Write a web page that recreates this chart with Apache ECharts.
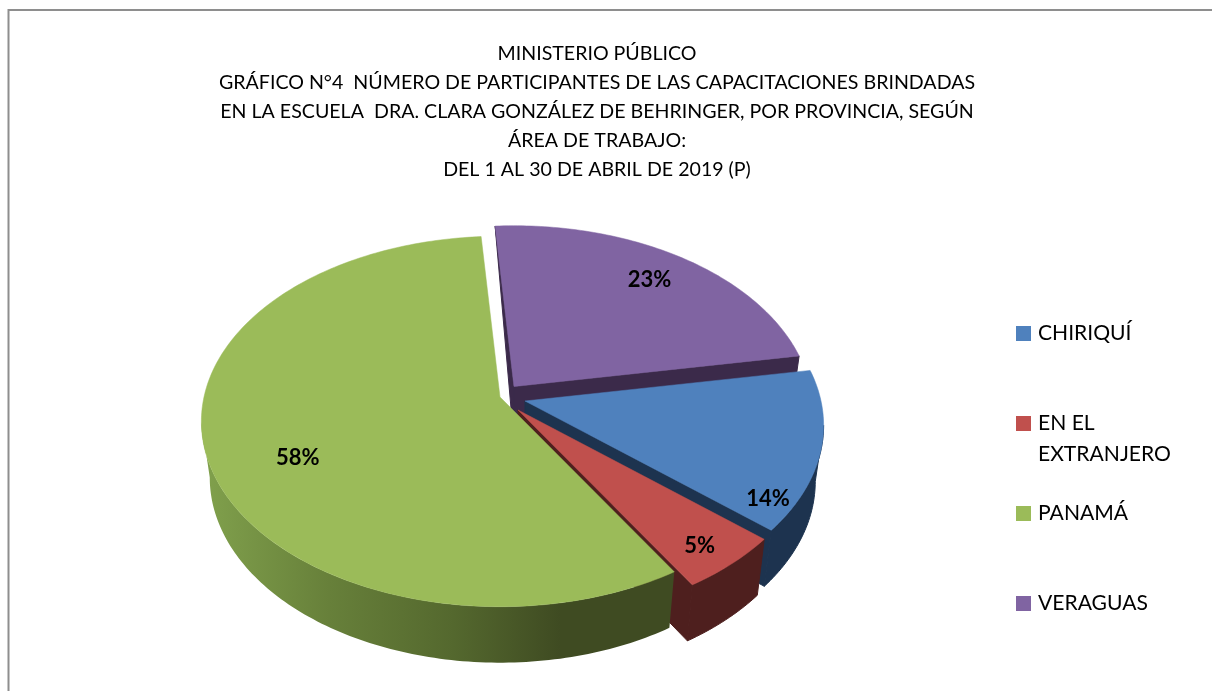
<!DOCTYPE html>
<html>
<head>
<meta charset="utf-8">
<style>html,body{margin:0;padding:0;background:#fff}#c{width:1212px;height:691px}</style>
<script src="https://cdn.jsdelivr.net/npm/echarts@6/dist/echarts.min.js"></script>
</head>
<body>
<div id="c"></div>
<script>
const categories = ['CHIRIQUÍ', 'EN EL\nEXTRANJERO', 'PANAMÁ', 'VERAGUAS'];
const shares = [14, 5, 57.6, 23.4];
const titleLines = [
  'MINISTERIO PÚBLICO',
  'GRÁFICO N°4  NÚMERO DE PARTICIPANTES DE LAS CAPACITACIONES BRINDADAS',
  'EN LA ESCUELA  DRA. CLARA GONZÁLEZ DE BEHRINGER, POR PROVINCIA, SEGÚN',
  'ÁREA DE TRABAJO:',
  'DEL 1 AL 30 DE ABRIL DE 2019 (P)'
];

const topColors = ['#4f81bd', '#c0504d', '#9bbb59', '#8064a2'];
const wallColors = ['#1d334f', '#4e1f1e', '#414c22', '#3b2a4a'];
const greenWall = { type: 'linear', x: 205, y: 0, x2: 560, y2: 0, global: true,
  colorStops: [{offset: 0, color: '#80a04c'}, {offset: .35, color: '#67803a'}, {offset: .7, color: '#54682e'}, {offset: 1, color: '#3f4b22'}] };

// 3D view of the pie
const view = { cx: 500, cy: 397, rx: 296, ry: 182, persp: 0.132, depth: 56, shrink: 0.972, start: 80.1 };
const explode = [[25, 4], [18, 13], [0, 0], [14, -10.5]];
const drawOrder = [1, 2, 3, 0];
const labelShift = [18, 1, -8.2, 0];
const labelRadius = [0.917, 0.878, 0.728, 0.806];
const total = shares.reduce((a, b) => a + b, 0);
const rad = d => d * Math.PI / 180;
const tangentAngle = Math.acos(-view.persp) * 180 / Math.PI;

function rim(i, theta, r) {
  const u = r * Math.sin(rad(theta)), v = r * Math.cos(rad(theta));
  const w = 1 + view.persp * v;
  return [view.cx + explode[i][0] + view.rx * u / w, view.cy + explode[i][1] - view.ry * v / w];
}
function below(i, p) {
  const ax = view.cx + explode[i][0];
  return [ax + (p[0] - ax) * view.shrink, p[1] + view.depth];
}
function arc(i, a, b) {
  const pts = [], n = Math.max(2, Math.ceil(Math.abs(b - a)));
  for (let k = 0; k <= n; k++) pts.push(rim(i, a + (b - a) * k / n, 1));
  return pts;
}
function poly(points, fill, z2, lineWidth) {
  return { type: 'polygon', z2, shape: { points }, style: { fill, stroke: fill, lineWidth } };
}
function renderSlice(params, api) {
  const i = params.dataIndex;
  let a = view.start;
  for (let k = 0; k < i; k++) a += shares[k] / total * 360;
  const span = api.value(0) / total * 360, b = a + span;
  const base = drawOrder[i] * 10, apex = rim(i, 0, 0);
  const kids = [];
  // radial wall at the slice's clockwise end
  const endP = rim(i, b, 1);
  if (b % 360 < 180 || i === 3) {
    kids.push(poly([apex, endP, below(i, endP), below(i, apex)], wallColors[i], base, 1));
  }
  // radial wall at the slice's start edge, where it shows
  if (i === 3) {
    kids.push(poly([rim(i, a, 1), apex, below(i, apex)], wallColors[i], base, 1));
  }
  // outer curved wall: the part of the rim that faces the viewer
  const frontEnd = Math.min(b, 360 - tangentAngle);
  const frontStart = Math.max(a, tangentAngle);
  if (frontEnd > frontStart) {
    const top = arc(i, frontStart, frontEnd);
    kids.push(poly(top.concat(top.map(p => below(i, p)).reverse()), i === 2 ? greenWall : wallColors[i], base + 1, i === 2 ? 0 : 1));
  }
  // top face
  kids.push(poly([apex].concat(arc(i, a, b)), topColors[i], base + 2, 0.5));
  // percentage label
  const lp = rim(i, (a + b) / 2 + labelShift[i], labelRadius[i]);
  kids.push({ type: 'text', z2: 100, style: {
    x: lp[0], y: lp[1], text: Math.round(api.value(0) / total * 100) + '%',
    fill: '#000', align: 'center', verticalAlign: 'middle',
    font: 'bold 22px Lato, sans-serif' } });
  return { type: 'group', children: kids };
}

const legendY = [326, 416, 506, 596];
const legendGraphics = [];
categories.forEach((name, i) => {
  legendGraphics.push({ type: 'rect', left: 1016, top: legendY[i], shape: { width: 15, height: 15 }, style: { fill: topColors[i] } });
  legendGraphics.push({ type: 'text', left: 1038, top: legendY[i] - 8, style: { text: name, fill: '#000', font: '21.1px Lato, sans-serif', lineHeight: 31 } });
});

const chart = echarts.init(document.getElementById('c'), null, { renderer: 'canvas' });
chart.setOption({
  animation: false,
  backgroundColor: '#fff',
  title: {
    text: titleLines.join('\n'), left: 592, top: 34, textAlign: 'center',
    textStyle: { fontFamily: 'Lato, sans-serif', fontWeight: 'normal', fontSize: 19.6, lineHeight: 29, color: '#000' }
  },
  graphic: [
    { type: 'polyline', shape: { points: [[8.5, 691], [8.5, 10], [1212, 10]] }, style: { stroke: '#8e8e8e', lineWidth: 2, fill: null } }
  ].concat(legendGraphics),
  series: [{
    type: 'custom',
    coordinateSystem: 'none',
    renderItem: renderSlice,
    data: shares.map((v, i) => ({ name: categories[i], value: [v] }))
  }]
});
</script>
</body>
</html>
